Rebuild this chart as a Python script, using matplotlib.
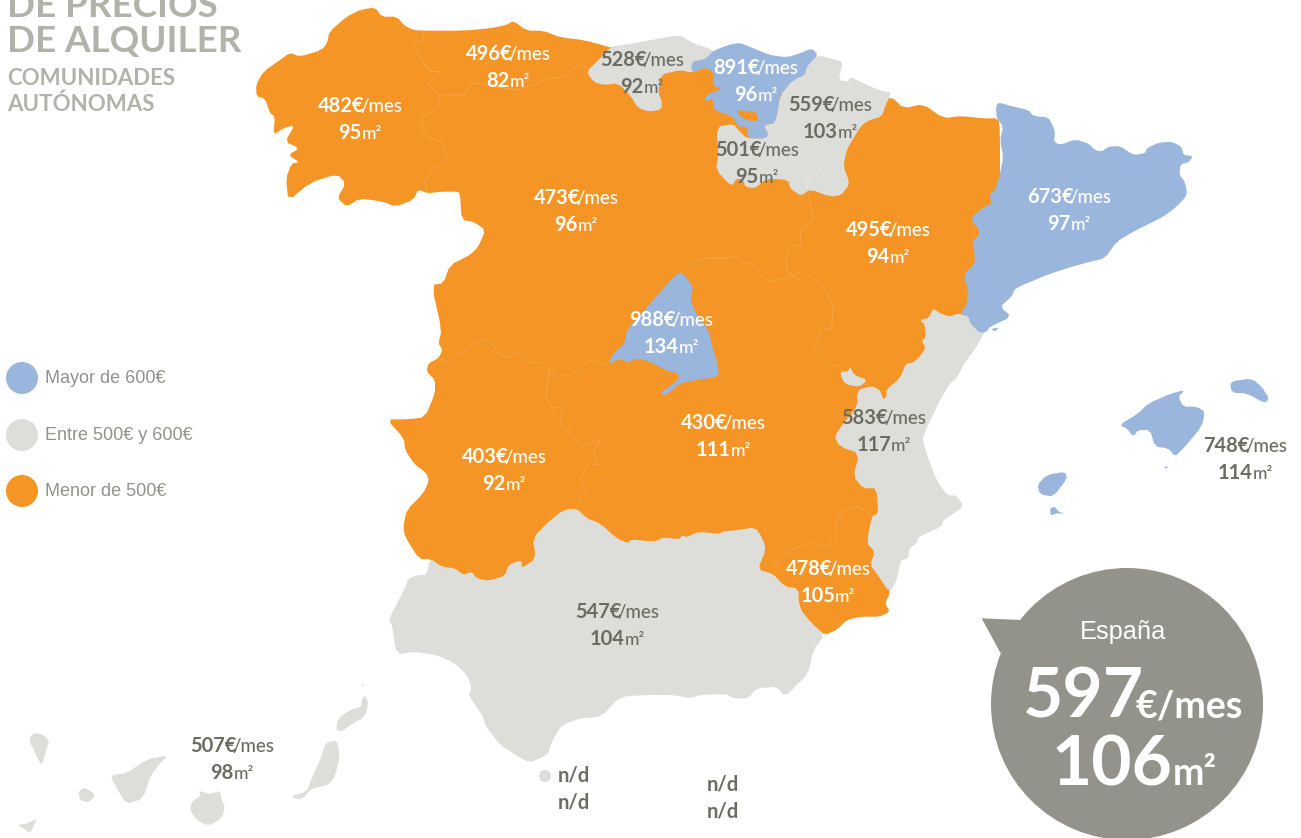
#!/usr/bin/env python3
# -*- coding: utf-8 -*-
"""Mapa de precios de alquiler por comunidades autonomas."""

import numpy as np
import matplotlib
matplotlib.use("Agg")
import matplotlib.pyplot as plt
from matplotlib.patches import Circle, Polygon

ORANGE = "#f49526"
BLUE = "#9ab6dc"
GREY = "#dddeda"
BUBBLE = "#94938b"
DARK = "#6c6d62"
TITLE = "#b1b2aa"
LEGEND_TXT = "#92928b"
BORDER = "#f7ab50"

# values
REGIONS = ["Galicia", "Asturias", "Cantabria", "Pais Vasco", "Navarra", "La Rioja",
           "Castilla y Leon", "Cataluna", "Aragon", "Madrid", "C. Valenciana",
           "C-La Mancha", "Extremadura", "Baleares", "Murcia", "Andalucia", "Canarias"]
RENTS = [482, 496, 528, 891, 559, 501, 473, 673, 495, 988, 583, 430, 403, 748, 478, 547, 507]
AREAS = [95, 82, 92, 96, 103, 95, 96, 97, 94, 134, 117, 111, 92, 114, 105, 104, 98]
LABEL_X = [360, 508, 642, 756, 830, 757, 576, 1069, 888, 671, 884, 723, 504, 1245, 828, 617, 232]
LABEL_Y = [105, 53, 59, 67, 104, 149, 197, 196, 229, 319, 417, 422, 456, 445, 568, 611, 745]
LIGHT_TEXT = [True, True, False, True, False, False, True, True, True, True, False,
              True, True, False, True, False, False]
NA_LABELS = [(574, 775), (574, 802), (723, 784), (723, 811)]
LEGEND = ["Mayor de 600€", "Entre 500€ y 600€", "Menor de 500€"]
LEGEND_COLORS = [BLUE, GREY, ORANGE]
SPAIN_RENT = 597
SPAIN_AREA = 106


def crop(x0, y0, pts):
    """Zoomed (3x) crop coordinates to picture pixels."""
    a = np.array(pts, dtype=float)
    return np.column_stack([x0 + a[:, 0] / 3, y0 + a[:, 1] / 3])


def soften(pts, r=0.2):
    """One corner cutting pass, the outlines are rounder than straight segments."""
    a = np.asarray(pts, dtype=float)
    b = np.roll(a, -1, axis=0)
    out = np.empty((len(a) * 2, 2))
    out[0::2] = (1 - r) * a + r * b
    out[1::2] = r * a + (1 - r) * b
    return out


C1, C2, C3 = (250, 0), (590, 30), (780, 250)
C4, C5, C7 = (380, 330), (0, 660), (950, 90)

orange_block = np.vstack([
    crop(*C1, [(20, 290), (18, 255), (40, 215), (90, 180), (120, 158), (150, 170), (215, 150),
               (232, 128), (238, 95), (290, 50), (330, 30), (375, 22), (395, 50), (440, 50),
               (465, 78), (490, 90), (520, 92), (640, 92), (720, 85), (770, 75), (790, 62),
               (830, 92), (880, 92), (930, 112), (1000, 120), (1075, 140)]),
    [(650, 60), (720, 70), (800, 90), (860, 100)],
    crop(*C2, [(905, 200), (940, 235), (1000, 222), (1060, 265), (1110, 258), (1180, 265), (1225, 265)]),
    [(1000, 130), (1000, 200), (985, 270), (965, 320), (930, 400), (895, 500)],
    crop(*C3, [(330, 1030), (315, 1060), (330, 1085), (300, 1100), (240, 1100), (200, 1110),
               (170, 1140), (135, 1155), (85, 1130), (55, 1060), (55, 1015)]),
    [(700, 620), (500, 620), (440, 600), (431, 565), (431, 559)],
    crop(*C4, [(118, 688), (75, 620), (70, 590), (80, 540), (130, 490), (148, 450), (135, 425),
               (105, 405), (75, 360), (72, 325), (20, 268), (80, 268), (135, 262), (165, 190),
               (165, 150), (140, 125), (145, 100), (175, 85), (188, 60), (175, 40), (185, 0)]),
    crop(*C1, [(545, 855), (580, 850), (600, 795), (660, 765), (685, 740), (707, 690), (670, 665),
               (635, 660), (630, 580), (620, 575), (575, 575), (532, 580), (505, 568), (490, 600),
               (435, 620), (400, 605), (330, 595), (290, 620), (262, 595), (287, 550), (262, 522),
               (180, 548), (115, 603), (108, 535), (125, 490), (148, 487), (115, 465), (148, 445),
               (105, 425), (135, 375), (100, 385), (70, 405), (75, 350), (60, 340), (45, 295)]),
])

andalucia = crop(*C4, [(150, 685), (185, 710), (225, 715), (250, 735), (275, 725), (290, 745), (325, 752),
                       (375, 738), (385, 705), (425, 690), (425, 715), (468, 685), (458, 625), (500, 580),
                       (550, 540), (590, 535), (620, 565), (660, 580), (710, 625), (745, 640), (750, 628),
                       (825, 635), (850, 622), (900, 628), (905, 615), (920, 622), (955, 605), (1020, 612),
                       (1025, 605), (1075, 600), (1125, 592), (1148, 625), (1158, 660), (1133, 718),
                       (1180, 732), (1215, 770), (1255, 775), (1255, 830), (1295, 880), (1335, 915),
                       (1300, 960), (1285, 1030), (1250, 1065), (1215, 1100), (1190, 1070), (1130, 1075),
                       (1105, 1105), (1060, 1105), (1040, 1092), (960, 1095), (930, 1105), (880, 1095),
                       (800, 1095), (720, 1100), (665, 1160), (600, 1165), (545, 1185), (515, 1235),
                       (505, 1270), (490, 1280), (450, 1298), (415, 1280), (360, 1245), (315, 1185),
                       (310, 1160), (265, 1095), (275, 1075), (265, 1040), (225, 1000), (170, 975),
                       (100, 965), (50, 975), (35, 880), (25, 870), (75, 775), (85, 745), (115, 735),
                       (140, 735)])

valencia = crop(*C3, [(460, 175), (480, 190), (510, 200), (535, 190), (565, 200), (570, 220), (600, 250),
                      (615, 245), (590, 290), (550, 345), (530, 385), (510, 400), (480, 450), (430, 555),
                      (430, 580), (450, 640), (470, 690), (500, 735), (530, 737), (552, 770), (490, 810),
                      (485, 830), (415, 860), (410, 880), (388, 895), (385, 925), (362, 930), (352, 985),
                      (330, 1030), (290, 970), (270, 945), (285, 905), (260, 880), (275, 800), (295, 790),
                      (290, 715), (250, 715), (220, 680), (238, 610), (180, 590), (163, 560), (190, 520),
                      (232, 470), (232, 420), (275, 408), (300, 420), (310, 448), (320, 440), (318, 420),
                      (360, 385), (378, 340), (395, 340), (415, 325), (437, 295), (425, 270), (437, 265),
                      (435, 225), (420, 210), (445, 205)])
ademuz = crop(*C3, [(180, 365), (205, 365), (210, 348), (222, 375), (262, 390), (240, 410), (205, 405), (190, 395)])

cataluna = np.vstack([
    crop(*C7, [(145, 37), (190, 50), (235, 60), (250, 78), (295, 82), (310, 110), (315, 130), (312, 155),
               (330, 165), (375, 148), (415, 160), (435, 180), (455, 185), (475, 170), (510, 168),
               (550, 195), (585, 190), (590, 175), (625, 158), (665, 155), (695, 170), (700, 195),
               (730, 198), (715, 218), (692, 222), (688, 255), (705, 275), (712, 315), (680, 350),
               (640, 380), (600, 400), (550, 425), (500, 455), (465, 505)]),
    crop(*C3, [(930, 35), (860, 55), (800, 75), (760, 92), (705, 115), (695, 140), (660, 170), (695, 200),
               (630, 230), (620, 245), (600, 250), (570, 220), (565, 200), (540, 190), (560, 165),
               (565, 120), (550, 75), (585, 40), (583, 0)]),
    crop(*C7, [(67, 455), (88, 435), (85, 415), (65, 395), (70, 375), (105, 350), (125, 340), (118, 315),
               (135, 300), (148, 260), (160, 200), (150, 150), (160, 110), (140, 85), (138, 50)]),
])

cantabria = np.vstack([
    crop(*C1, [(1085, 140), (1040, 185), (1010, 215), (1030, 245), (1060, 255), (1105, 250)]),
    crop(*C2, [(120, 195), (145, 235), (180, 245), (215, 238), (215, 210), (205, 190), (210, 135),
               (270, 120), (305, 128), (345, 112), (370, 75), (370, 60), (310, 40), (270, 15),
               (210, 25), (130, 40), (65, 50)]),
])

pais_vasco = crop(*C2, [(305, 128), (305, 95), (345, 88), (370, 62), (415, 45), (450, 38), (490, 55), (540, 75),
                        (590, 82), (630, 70), (665, 55), (685, 75), (650, 110), (645, 135), (610, 150),
                        (570, 195), (565, 235), (555, 280), (520, 285), (535, 310), (530, 325), (475, 325),
                        (470, 290), (445, 290), (430, 260), (370, 240), (370, 205), (345, 215), (345, 200),
                        (360, 190), (398, 175), (370, 170), (370, 125), (345, 112)])
trevino = crop(*C2, [(435, 240), (500, 245), (505, 275), (465, 270)])

navarra_rioja = crop(*C2, [(685, 75), (720, 85), (760, 95), (745, 150), (775, 155), (780, 140), (830, 165),
                           (880, 185), (905, 185), (885, 230), (875, 260), (840, 270), (815, 285), (790, 325),
                           (770, 360), (760, 410), (780, 460), (755, 495), (720, 500), (660, 478), (632, 498),
                           (600, 475), (595, 450), (530, 445), (495, 475), (465, 470), (460, 450), (440, 445),
                           (425, 470), (378, 420), (385, 375), (380, 290), (430, 282), (445, 300), (470, 325),
                           (530, 325), (520, 285), (555, 280), (570, 195), (610, 150), (650, 110)])

madrid = np.vstack([
    crop(*C2, [(190, 810), (250, 740), (275, 725), (310, 770), (300, 810)]),
    [(697, 315)],
    crop(*C4, [(985, 0), (1000, 60), (1010, 90), (1018, 140), (960, 148), (900, 160), (855, 198), (840, 190),
               (895, 150), (895, 130), (860, 122), (810, 95), (770, 85), (745, 98), (720, 85), (683, 105),
               (700, 70), (735, 40), (740, 0)]),
    [(640, 315)],
])

baleares = [
    crop(*C3, [(1018, 525), (1075, 490), (1105, 460), (1175, 430), (1215, 420), (1195, 440), (1210, 470),
               (1250, 470), (1275, 485), (1265, 530), (1215, 590), (1185, 620), (1165, 595), (1125, 590),
               (1110, 540), (1075, 540), (1060, 560), (1040, 535)]),
    crop(*C3, [(1350, 395), (1415, 385), (1445, 410), (1467, 445), (1455, 460), (1400, 430), (1355, 428)]),
    crop(*C3, [(772, 705), (800, 675), (855, 665), (862, 685), (820, 740), (780, 733)]),
    crop(*C3, [(810, 775), (825, 770), (835, 785), (855, 790), (830, 790), (812, 797)]),
    crop(*C3, [(1152, 650), (1165, 650), (1158, 657)]),
    crop(*C3, [(633, 237), (657, 232), (645, 245)]),
]

canarias = [
    crop(*C5, [(85, 235), (105, 218), (130, 225), (148, 242), (140, 265), (125, 318), (110, 290)]),
    crop(*C5, [(235, 395), (255, 382), (288, 405), (265, 428), (240, 420)]),
    crop(*C5, [(330, 345), (380, 340), (440, 298), (505, 285), (480, 310), (450, 350), (430, 415), (380, 433), (350, 385)]),
    crop(*C5, [(600, 392), (630, 402), (660, 392), (665, 420), (675, 440), (665, 475), (625, 498), (590, 480),
               (570, 450), (575, 425), (600, 410)]),
    crop(*C5, [(52, 495), (85, 490), (110, 475), (105, 490), (90, 520), (70, 505)]),
    crop(*C5, [(870, 410), (920, 395), (935, 355), (965, 290), (975, 250), (1010, 240), (1020, 285), (1005, 350),
               (985, 375), (935, 385), (905, 420)]),
    crop(*C5, [(1008, 212), (1015, 175), (1050, 150), (1085, 140), (1085, 120), (1095, 105), (1105, 130),
               (1095, 170), (1050, 195), (1030, 212)]),
]

borders_orange = [
    crop(*C1, [(520, 92), (520, 115), (490, 135), (515, 180), (540, 215), (568, 215), (535, 250), (570, 290),
               (560, 325), (520, 350), (515, 400), (570, 425), (590, 460), (580, 490), (545, 510), (525, 545), (532, 580)]),
    crop(*C1, [(570, 290), (590, 285), (640, 285), (670, 248), (720, 258), (800, 270), (850, 255), (890, 235),
               (950, 230), (960, 210), (1000, 190), (1010, 205)]),
    crop(*C2, [(655, 490), (670, 570), (630, 600), (635, 650), (605, 645), (590, 675), (590, 720), (610, 740)]),
    crop(*C2, [(280, 725), (310, 695), (350, 685), (410, 685), (430, 675), (450, 695), (490, 705), (510, 735),
               (545, 755), (610, 740)]),
    crop(*C3, [(39, 81), (65, 62), (100, 85), (140, 125), (160, 170), (155, 235), (125, 240), (100, 290),
               (125, 320), (150, 345), (180, 350), (190, 370)]),
    crop(*C4, [(175, 85), (205, 95), (240, 70), (310, 25), (345, 50), (350, 65), (385, 85), (410, 65), (440, 95),
               (500, 100), (510, 135), (540, 140), (580, 130), (630, 90), (655, 95), (683, 105)]),
    crop(*C4, [(505, 135), (497, 200), (520, 235), (548, 230), (542, 280), (610, 350), (660, 330), (640, 370),
               (658, 405), (625, 400), (600, 445), (622, 485), (600, 500), (590, 535)]),
    crop(*C3, [(-20, 950), (0, 920), (45, 895), (100, 875), (130, 890), (170, 870), (170, 815), (180, 790),
               (235, 768), (275, 800)]),
]
border_rioja = crop(*C2, [(620, 370), (660, 400), (695, 420), (650, 450), (650, 475)])


def runs(ax, x, y, parts, color, zorder=6):
    """Centre a row of differently sized text pieces on x, baseline at y."""
    renderer = ax.figure.canvas.get_renderer()
    items = [ax.text(0, y, s, fontsize=fs, fontweight=w, color=color, family="Lato",
                     va="baseline", ha="left", zorder=zorder) for s, fs, w in parts]
    widths = []
    for i, t in enumerate(items):
        w = t.get_window_extent(renderer).width
        # the extent leaves a gap before "/" and the euro sign
        if i + 1 < len(parts) and parts[i + 1][0][0] in "/€":
            w -= 0.3 * parts[i + 1][1]
        widths.append(w)
    cur = x - sum(widths) / 2
    for t, w in zip(items, widths):
        t.set_x(cur)
        cur += w


def region_label(ax, x, y, rent, area, color):
    runs(ax, x, y + 7, [(str(rent) + "€", 14.5, "bold"), ("/mes", 13.5, "medium")], color)
    runs(ax, x, y + 34, [(str(area), 14.5, "bold"), ("m²", 12.5, "medium")], color)


fig = plt.figure(figsize=(13.01, 8.38), dpi=100)
ax = fig.add_axes([0, 0, 1, 1])
ax.set_xlim(0, 1301)
ax.set_ylim(838, 0)
ax.axis("off")


def fill(pts, color, z=2):
    ax.add_patch(Polygon(soften(pts), closed=True, fc=color, ec="none", zorder=z))


fill(orange_block, ORANGE, 1)
for pts in [andalucia, valencia, cantabria, navarra_rioja, ademuz]:
    fill(pts, GREY, 2)
for pts in canarias:
    fill(pts, GREY, 2)
for pts in [cataluna, pais_vasco, madrid]:
    fill(pts, BLUE, 3)
for pts in baleares:
    fill(pts, BLUE, 3)
fill(trevino, ORANGE, 4)

for line in borders_orange:
    ax.plot(line[:, 0], line[:, 1], color=BORDER, lw=0.5, zorder=1.5)
ax.plot(border_rioja[:, 0], border_rioja[:, 1], color="#e9e9e6", lw=0.6, zorder=2.5)

ax.add_patch(Circle((362.7, 685), 1, fc=GREY, ec="none"))
ax.add_patch(Circle((545, 776), 6, fc=GREY, ec="none"))

# legend
for yy, lab, col in zip([378, 435, 491], LEGEND, LEGEND_COLORS):
    ax.add_patch(Circle((22, yy), 16, fc=col, ec="none"))
    ax.text(45, yy, lab, fontsize=13, color=LEGEND_TXT, family="Liberation Sans", va="center", ha="left")

# title, first line runs off the top of the page
ax.text(7, 17, "DE PRECIOS", fontsize=26.5, fontweight="bold", color=TITLE, family="Lato")
ax.text(7, 52, "DE ALQUILER", fontsize=26.5, fontweight="bold", color=TITLE, family="Lato")
ax.text(7, 85, "COMUNIDADES", fontsize=16, fontweight="bold", color=TITLE, family="Lato")
ax.text(7, 111, "AUTÓNOMAS", fontsize=16, fontweight="bold", color=TITLE, family="Lato")

for x, y, r, a, light in zip(LABEL_X, LABEL_Y, RENTS, AREAS, LIGHT_TEXT):
    region_label(ax, x, y, r, a, "white" if light else DARK)
for x, y in NA_LABELS:
    ax.text(x, y, "n/d", fontsize=14.5, fontweight="bold", color=DARK, family="Lato", ha="center", va="center")

# Spain bubble
ax.add_patch(Circle((1127, 704), 136, fc=BUBBLE, ec="none", zorder=5))
ax.add_patch(Polygon(crop(970, 600, [(35, 55), (155, 60), (92, 160)]), closed=True, fc=BUBBLE, ec="none", zorder=5))
ax.text(1123, 632, "España", fontsize=18.3, color="white", family="Liberation Sans", ha="center", va="center", zorder=6)
runs(ax, 1133, 717, [(str(SPAIN_RENT), 50, "bold"), ("€/mes", 27, "bold")], "white")
runs(ax, 1134, 785, [(str(SPAIN_AREA), 50, "bold"), ("m²", 27, "bold")], "white")

fig.savefig("out.png", dpi=100)
